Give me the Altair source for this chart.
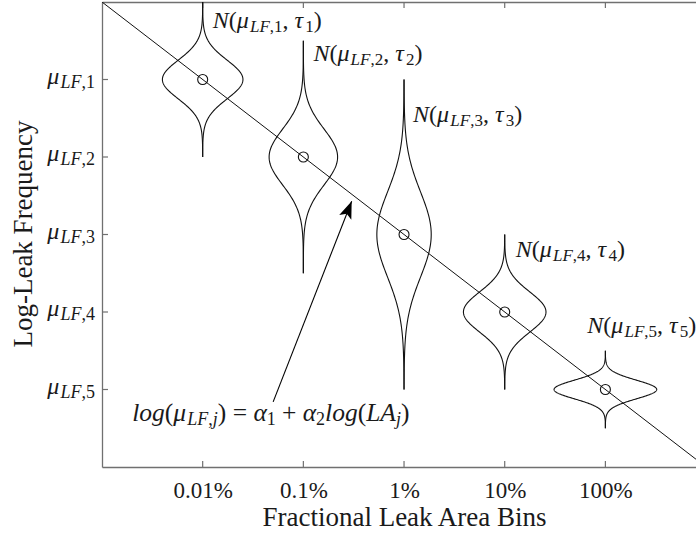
import altair as alt
import numpy as np
import pandas as pd

# ---------------- data ----------------
bins = ["0.01%", "0.1%", "1%", "10%", "100%"]
bin_pos = [1, 2, 3, 4, 5]
mu_pos = [1, 2, 3, 4, 5]
j_idx = ["1", "2", "3", "4", "5"]

violin_extent = [1.0, 1.5, 2.0, 1.0, 0.5]      # half length of each violin (y units)
violin_sigma = [0.25, 0.36, 0.55, 0.26, 0.12]   # tau_j drawn as the spread
violin_halfwidth = [0.40, 0.34, 0.27, 0.41, 0.51]  # peak half width (x units)

label_x = [1.10, 2.10, 3.09, 4.11, 4.82]       # N(...) label anchors
label_y = [0.335, 0.76, 1.55, 3.29, 4.27]

line_x = [0, 6]
line_y = [0, 6]

eq_x = [0.30]
eq_y = [5.41]

arrow_tail_x = [1.70]
arrow_tail_y = [5.16]
arrow_tip_x = [2.48]
arrow_tip_y = [2.57]

# ---------------- styling ----------------
W, H = 594, 465
SERIF = "Liberation Serif"
TEXT = "#1a1a1a"
AXIS = "#707070"
INK = "#111111"

xs = alt.Scale(domain=[0, 5.9], nice=False, zero=False)
ys = alt.Scale(domain=[0, 6], nice=False, zero=False, reverse=True)


def X(f, axis=None):
    return alt.X(f, type="quantitative", scale=xs, axis=axis)


def Y(f, axis=None):
    return alt.Y(f, type="quantitative", scale=ys, axis=axis)


# ---------------- violins (normal densities) ----------------
t = np.linspace(-1, 1, 241)
rows = []
for k in range(5):
    c, m = bin_pos[k], mu_pos[k]
    e, s, hw = violin_extent[k], violin_sigma[k], violin_halfwidth[k]
    for i, tt in enumerate(t):
        off = tt * e
        w = hw * np.exp(-0.5 * (off / s) ** 2)
        rows.append({"v": k, "side": "R", "i": i, "x": c + w, "y": m + off})
        rows.append({"v": k, "side": "L", "i": i, "x": c - w, "y": m + off})
violins = pd.DataFrame(rows)

centers = pd.DataFrame({"x": bin_pos, "y": mu_pos})
diag = pd.DataFrame({"x": line_x, "y": line_y})
arrow = pd.DataFrame({"x": arrow_tail_x, "y": arrow_tail_y,
                      "x2": arrow_tip_x, "y2": arrow_tip_y})
tip = pd.DataFrame({"x": arrow_tip_x, "y": arrow_tip_y})

label_expr = " : ".join(
    f"datum.value == {p} ? '{b}'" for p, b in zip(bin_pos, bins)) + " : ''"

# base layer carrying bottom and left axes
base = alt.Chart(diag).mark_line(color=INK, strokeWidth=1, clip=True).encode(
    x=X("x", alt.Axis(values=bin_pos, labelExpr=label_expr, ticks=False, tickSize=0,
                      grid=False, domainColor=AXIS, domainWidth=1.3,
                      labelFont=SERIF, labelFontSize=23, labelColor=TEXT,
                      labelPadding=30, labelBaseline="alphabetic",
                      title="Fractional Leak Area Bins", titleFont=SERIF,
                      titleFontSize=27, titleFontWeight="normal", titleColor=TEXT,
                      titleX=302, titleY=58, titleBaseline="alphabetic")),
    y=Y("y", alt.Axis(values=mu_pos, labels=False, ticks=False, tickSize=0, grid=False,
                      domainColor=AXIS, domainWidth=1.3,
                      title="Log-Leak Frequency", titleFont=SERIF, titleFontSize=27,
                      titleFontWeight="normal", titleColor=TEXT,
                      titleX=-71, titleY=231.5, titleBaseline="alphabetic",
                      titleAngle=270, titleAlign="center")),
)

top_axis = alt.Chart(centers).mark_point(opacity=0).encode(
    x=X("x", alt.Axis(orient="top", values=bin_pos, labels=False, ticks=False,
                      tickSize=0, grid=False, domainColor=AXIS, domainWidth=1.3,
                      title=None)),
    y=Y("y"),
)

tick_bottom = alt.Chart(centers).mark_rule(color=AXIS, strokeWidth=1.2).encode(
    x=X("x"), y=alt.value(H), y2=alt.value(H - 6))
tick_top = alt.Chart(centers).mark_rule(color=AXIS, strokeWidth=1.2).encode(
    x=X("x"), y=alt.value(0), y2=alt.value(6))
tick_left = alt.Chart(centers).mark_rule(color=AXIS, strokeWidth=1.2).encode(
    y=Y("y"), x=alt.value(0), x2=alt.value(6))

violin_layer = alt.Chart(violins).mark_line(color=INK, strokeWidth=1.1, clip=True).encode(
    x=X("x"), y=Y("y"), detail=["v:N", "side:N"], order=alt.Order("i:Q"))

circle_layer = alt.Chart(centers).mark_point(
    shape="circle", size=100, filled=False, color=INK, strokeWidth=1.1, opacity=1
).encode(x=X("x"), y=Y("y"))

arrow_line = alt.Chart(arrow).mark_rule(color="black", strokeWidth=1.1).encode(
    x=X("x"), y=Y("y"), x2="x2", y2="y2")
arrow_head = alt.Chart(tip).mark_point(
    shape="M0,0L0.65,1.75L0,1.35L-0.65,1.75Z", size=400, filled=True,
    color="black", angle=21.5, opacity=1, strokeWidth=0
).encode(x=X("x"), y=Y("y"))

# ---------------- math-like text built from segments ----------------
ROMAN_W = {"(": .333, ")": .333, ",": .25, " ": .25, "=": .564, "+": .564}
ITALIC_W = {"N": .667, "L": .556, "F": .611, "A": .611, "l": .278, "o": .5,
            "g": .5, "j": .278, "μ": .55, "τ": .45, "α": .52}


def seg_w(txt, italic, size):
    w = 0.0
    for ch in txt:
        if ch.isdigit():
            w += .5
        elif italic:
            w += ITALIC_W.get(ch, ROMAN_W.get(ch, .5))
        else:
            w += ROMAN_W.get(ch, ITALIC_W.get(ch, .5))
    return w * size


def text_layers(df, segs, main, sub, sub_dy, start=0.0, base_dy=0.0, right=None):
    widths = [seg_w(s.format(j="1"), it, sub if sb else main) for s, it, sb in segs]
    cur = start if right is None else right - sum(widths)
    out = []
    for (s, it, sb), w in zip(segs, widths):
        size = sub if sb else main
        lead = len(s) - len(s.lstrip(" "))
        body = s.strip(" ")
        if body:
            d = df.copy()
            d["t"] = [body.format(j=j) for j in d["j"]]
            out.append(alt.Chart(d).mark_text(
                align="left", baseline="alphabetic",
                dx=round(cur + lead * ROMAN_W[" "] * size, 2),
                dy=base_dy + (sub_dy if sb else 0), font=SERIF,
                fontSize=size,
                fontStyle="italic" if it else "normal", color=TEXT
            ).encode(x=X("x"), y=Y("y"), text="t:N"))
        cur += w
    return out


n_df = pd.DataFrame({"x": label_x, "y": label_y, "j": j_idx})
n_segs = [("N", True, False), ("(", False, False), ("μ", True, False),
          ("LF", True, True), (",{j}", False, True), (",", False, False),
          (" τ", True, False), ("{j}", False, True), (")", False, False)]
n_layers = text_layers(n_df, n_segs, 24, 17, 4)

ylab_df = pd.DataFrame({"x": [0] * 5, "y": mu_pos, "j": j_idx})
ylab_segs = [("μ", True, False), ("LF", True, True), (",{j}", False, True)]
ylab_layers = text_layers(ylab_df, ylab_segs, 24, 18, 4, base_dy=4, right=-7)

eq_df = pd.DataFrame({"x": eq_x, "y": eq_y, "j": ["j"]})
eq_segs = [("log", True, False), ("(", False, False), ("μ", True, False),
           ("LF", True, True), (",", False, True), ("j", True, True),
           (")", False, False), (" = ", False, False), ("α", True, False),
           ("1", False, True), (" + ", False, False), ("α", True, False),
           ("2", False, True), ("log", True, False), ("(", False, False),
           ("LA", True, False), ("j", True, True), (")", False, False)]
eq_layers = text_layers(eq_df, eq_segs, 25.5, 18, 4)

chart = alt.layer(
    base, top_axis, tick_bottom, tick_top, tick_left, violin_layer, circle_layer,
    arrow_line, arrow_head, *n_layers, *ylab_layers, *eq_layers
).resolve_axis(x="independent", y="independent").properties(
    width=W, height=H,
    autosize=alt.AutoSizeParams(type="none"),
    padding={"left": 102, "top": 2, "right": 0, "bottom": 72},
    background="white",
).configure_view(stroke=None)

chart.save("out.html", embed_options={"renderer": "svg", "actions": False})
